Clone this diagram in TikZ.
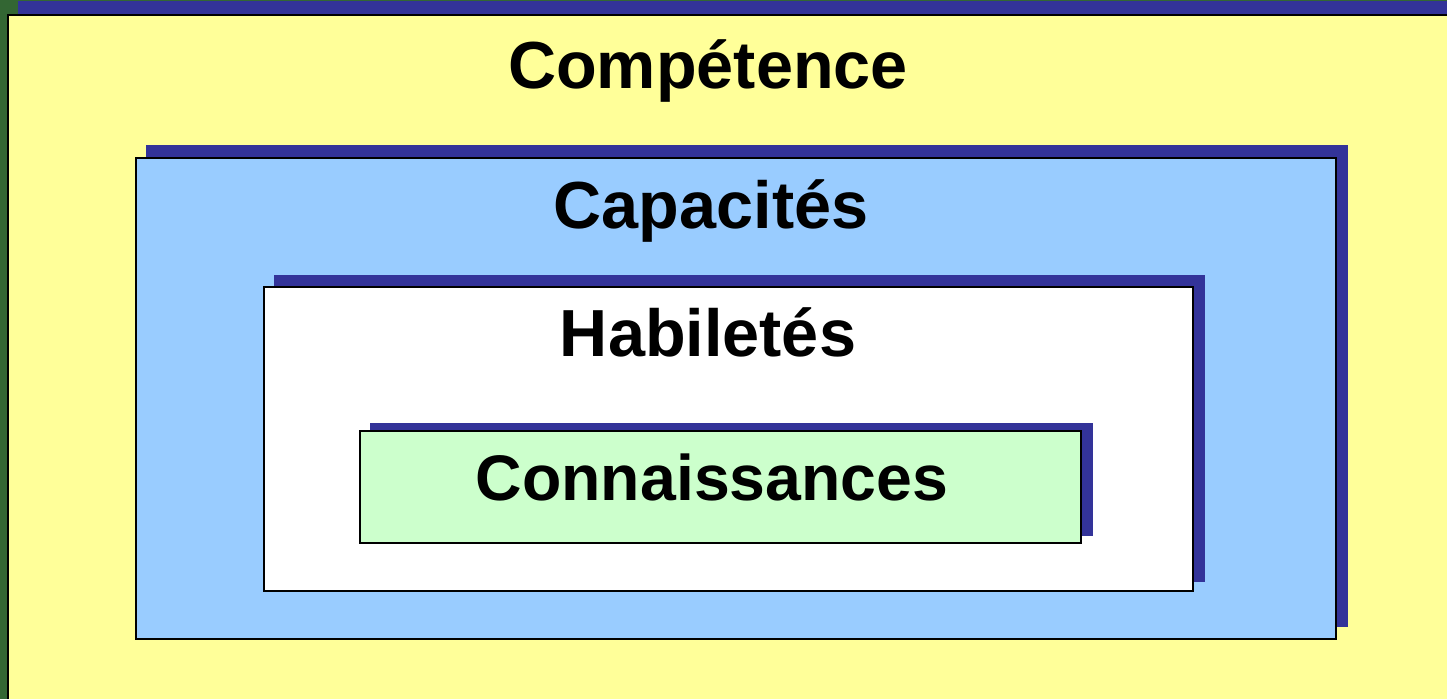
\documentclass[tikz,border=0pt]{standalone}
\usepackage{fontspec}
\setmainfont{Liberation Sans}
\definecolor{bggreen}{HTML}{336633}
\definecolor{shadeblue}{HTML}{333399}
\definecolor{compyellow}{HTML}{FFFF99}
\definecolor{capblue}{HTML}{99CCFF}
\definecolor{conngreen}{HTML}{CCFFCC}
\tikzset{
  layer/.style={draw=black,line width=1.1pt},
  shade/.style={fill=shadeblue},
  title/.style={anchor=base,inner sep=0pt,font=\fontsize{33.3}{36}\selectfont\bfseries}
}
\begin{document}
\begin{tikzpicture}
  [x=0.5pt,y=-0.5pt]
\useasboundingbox (0,0) rectangle (1447,699);
\clip (0,0) rectangle (1447,699);
\fill[bggreen] (0,0) rectangle (1447,699);
% Competence
\fill[shade] (18,1) rectangle (1470,720);
\draw[layer,fill=compyellow] (8,15) rectangle (1460,712);
% Capacites
\fill[shade] (146,145) rectangle (1348,627);
\draw[layer,fill=capblue] (136,158) rectangle (1336,639);
% Habiletes
\fill[shade] (274,275) rectangle (1205,582);
\draw[layer,fill=white] (264,287) rectangle (1193,591);
% Connaissances
\fill[shade] (370,423) rectangle (1093,536);
\draw[layer,fill=conngreen] (360,431) rectangle (1081,543);
\node (comp)[title] at (708,89) {Compétence};
  \node (cap)[title] at (711,229) {Capacités};
  \node (hab)[title] at (708,357) {Habiletés};
  \node (conn)[title,font=\fontsize{32.2}{36}\selectfont\bfseries] at (712,501) {Connaissances};
\end{tikzpicture}
\end{document}
